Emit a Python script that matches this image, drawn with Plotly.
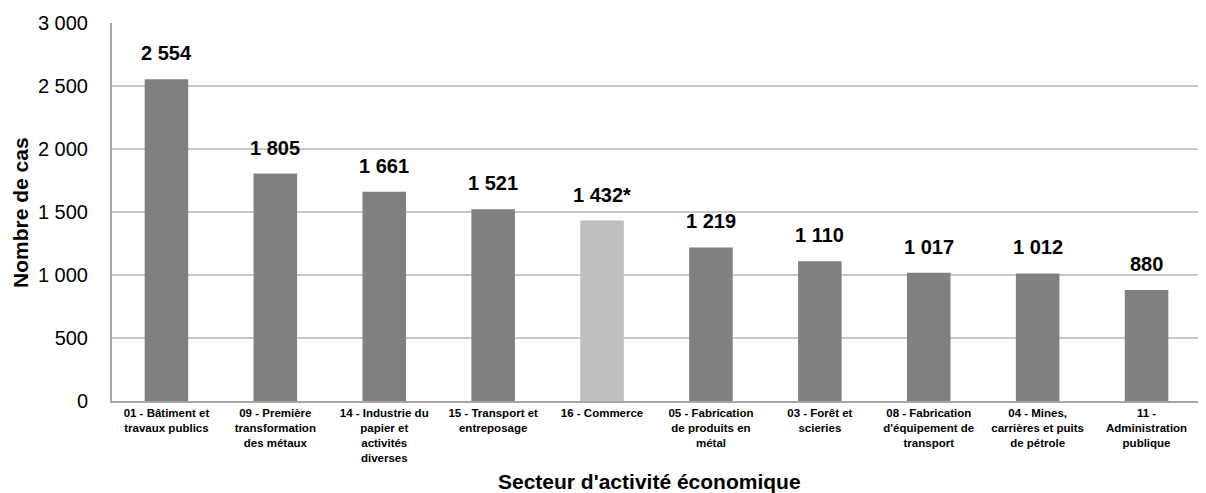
import plotly.graph_objects as go

categories = [
    "01 - Bâtiment et<br>travaux publics",
    "09 - Première<br>transformation<br>des métaux",
    "14 - Industrie du<br>papier et<br>activités<br>diverses",
    "15 - Transport et<br>entreposage",
    "16 - Commerce",
    "05 - Fabrication<br>de produits en<br>métal",
    "03 - Forêt et<br>scieries",
    "08 - Fabrication<br>d'équipement de<br>transport",
    "04 - Mines,<br>carrières et puits<br>de pétrole",
    "11 -<br>Administration<br>publique",
]
values = [2554, 1805, 1661, 1521, 1432, 1219, 1110, 1017, 1012, 880]
labels = ["2 554", "1 805", "1 661", "1 521", "1 432*", "1 219", "1 110", "1 017", "1 012", "880"]
colors = ["#808080"] * 4 + ["#BFBFBF"] + ["#808080"] * 5
tick_vals = [0, 500, 1000, 1500, 2000, 2500, 3000]
tick_text = ["0", "500", "1 000", "1 500", "2 000", "2 500", "3 000"]

FONT = "Liberation Sans, Arial"
cat_text = ["<br>".join(f"<b>{p}</b>" for p in c.split("<br>")) for c in categories]

fig = go.Figure(go.Bar(x=categories, y=values, marker=dict(color=colors, line=dict(width=0)), width=0.4))

for c, v, t in zip(categories, values, labels):
    fig.add_annotation(x=c, y=v, text=f"<b>{t}</b>", showarrow=False, yanchor="bottom", yshift=13,
                       font=dict(family=FONT, size=20, color="#000"))

fig.add_annotation(xref="paper", yref="paper", x=0.494, y=-0.214, xanchor="center", yanchor="middle",
                   text="<b>Secteur d'activité économique</b>", showarrow=False,
                   font=dict(family=FONT, size=21, color="#000"))
fig.add_annotation(xref="paper", yref="paper", x=-0.0845, y=0.5, xanchor="center", yanchor="middle",
                   text="<b>Nombre de cas</b>", showarrow=False, textangle=-90,
                   font=dict(family=FONT, size=21, color="#000"))

fig.update_layout(
    width=1198, height=485,
    margin=dict(l=104, r=5, t=15, b=92),
    plot_bgcolor="white", paper_bgcolor="white",
    showlegend=False,
    font=dict(family=FONT, color="#000"),
)
fig.update_xaxes(
    tickvals=categories, ticktext=cat_text,
    showline=True, linecolor="#A6A6A6", linewidth=2,
    tickfont=dict(size=11.5, family=FONT, color="#000"),
    tickangle=0, automargin=False,
)
fig.update_yaxes(
    range=[0, 3000], tickvals=tick_vals, ticktext=tick_text,
    showgrid=True, gridcolor="#C8C8C8", gridwidth=2,
    showline=True, linecolor="#A6A6A6", linewidth=2,
    ticks="", ticklabelstandoff=18,
    tickfont=dict(size=20, family=FONT, color="#000"),
    zeroline=False, automargin=False,
)
fig.write_html("out.html")
